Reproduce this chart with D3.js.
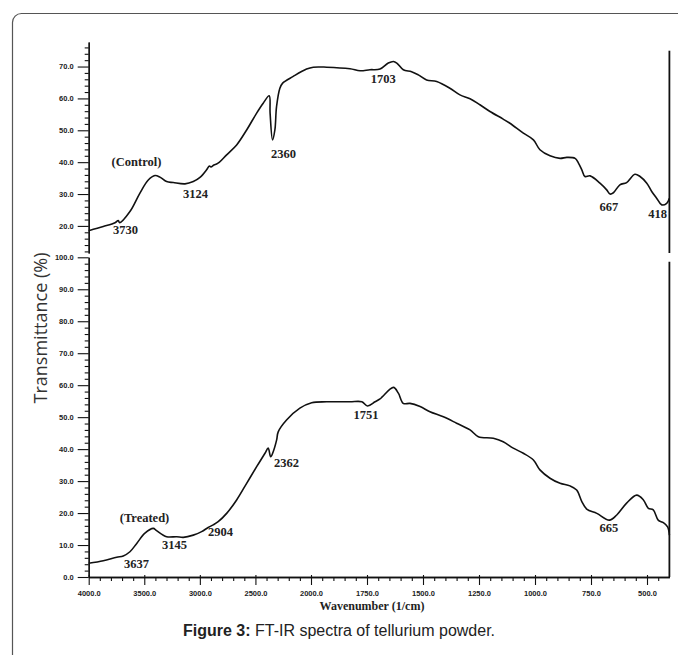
<!DOCTYPE html>
<html>
<head>
<meta charset="utf-8">
<script src="https://cdn.jsdelivr.net/npm/d3@7"></script>
<style>
  html, body { margin: 0; padding: 0; background: #fff; }
  svg { display: block; }
</style>
</head>
<body>
<div id="chart"></div>
<script>
// ---------------- DATA ----------------
const xMajorTicks = [4000, 3500, 3000, 2500, 2000, 1750, 1500, 1250, 1000, 750, 500];
const xMajorLabels = ["4000.0", "3500.0", "3000.0", "2500.0", "2000.0", "1750.0", "1500.0", "1250.0", "1000.0", "750.0", "500.0"];
const xMinorTicksHigh = [3900, 3800, 3700, 3600, 3400, 3300, 3200, 3100, 2900, 2800, 2700, 2600, 2400, 2300, 2200, 2100];
const xMinorTicksLow = [1950, 1900, 1850, 1800, 1700, 1650, 1600, 1550, 1450, 1400, 1350, 1300, 1200, 1150, 1100, 1050, 950, 900, 850, 800, 700, 650, 600, 550, 450];

const topYMajor = [20, 30, 40, 50, 60, 70];
const topYMinor = [12, 14, 16, 18, 22, 24, 26, 28, 32, 34, 36, 38, 42, 44, 46, 48, 52, 54, 56, 58, 62, 64, 66, 68, 72, 74, 76];
const botYMajor = [0, 10, 20, 30, 40, 50, 60, 70, 80, 90, 100];
const botYMinor = [2, 4, 6, 8, 12, 14, 16, 18, 22, 24, 26, 28, 32, 34, 36, 38, 42, 44, 46, 48, 52, 54, 56, 58, 62, 64, 66, 68, 72, 74, 76, 78, 82, 84, 86, 88, 92, 94, 96, 98];

// Control spectrum (wavenumber, transmittance %)
const controlWavenumber = [4000, 3869, 3763, 3734, 3722, 3629, 3539, 3464, 3404, 3359, 3299, 3239, 3134, 3059, 2999, 2939, 2915, 2900, 2873, 2850, 2826, 2759, 2669, 2579, 2489, 2430, 2376, 2368, 2346, 2325, 2310, 2280, 2255, 2160, 2040, 1990, 1930, 1826, 1781, 1737, 1692, 1655, 1632, 1617, 1588, 1551, 1521, 1484, 1439, 1380, 1335, 1290, 1246, 1201, 1142, 1112, 1052, 1007, 978, 933, 888, 858, 821, 806, 791, 777, 754, 710, 680, 665, 650, 621, 591, 554, 531, 501, 479, 457, 434, 412, 400];
const controlT = [18.5, 19.8, 21.0, 21.7, 21.0, 24.5, 30.3, 34.4, 35.8, 35.3, 33.9, 33.6, 33.2, 33.9, 35.2, 37.6, 38.8, 38.5, 39.1, 39.4, 39.9, 42.3, 45.4, 50.1, 55.4, 58.5, 60.8, 55.4, 47.0, 50.1, 57.4, 63.2, 64.8, 66.9, 69.2, 69.8, 69.8, 69.3, 68.7, 69.0, 69.2, 71.1, 71.6, 71.1, 69.0, 68.4, 67.4, 65.8, 65.3, 63.2, 61.1, 59.9, 58.0, 55.9, 53.5, 52.2, 49.1, 47.0, 43.9, 42.0, 41.2, 41.5, 41.2, 39.7, 37.6, 35.5, 35.7, 33.4, 31.3, 30.0, 30.4, 32.9, 33.6, 36.2, 35.5, 33.4, 30.8, 28.7, 26.6, 27.1, 28.7];

// Treated spectrum (wavenumber, transmittance %)
const treatedWavenumber = [4000, 3869, 3748, 3689, 3629, 3568, 3494, 3419, 3390, 3299, 3209, 3149, 3059, 2984, 2925, 2880, 2835, 2759, 2669, 2579, 2489, 2414, 2385, 2363, 2340, 2309, 2295, 2220, 2100, 1997, 1930, 1826, 1773, 1748, 1714, 1692, 1681, 1632, 1610, 1588, 1558, 1513, 1469, 1409, 1350, 1290, 1253, 1186, 1142, 1097, 1052, 1007, 978, 933, 888, 844, 814, 791, 769, 724, 668, 635, 591, 546, 516, 494, 472, 450, 427, 408, 400];
const treatedT = [4.3, 5.1, 6.2, 6.6, 7.9, 10.5, 13.7, 15.2, 14.5, 12.6, 12.6, 12.4, 13.1, 14.2, 15.5, 16.3, 17.3, 19.9, 24.1, 29.3, 34.5, 38.7, 40.3, 37.6, 39.2, 42.9, 45.4, 49.1, 52.8, 54.5, 54.8, 54.8, 54.8, 53.5, 54.8, 55.7, 56.4, 59.3, 57.5, 54.3, 54.3, 53.3, 51.7, 50.1, 48.1, 46.0, 43.9, 43.4, 42.3, 40.3, 38.7, 36.6, 33.5, 30.9, 29.3, 28.5, 27.2, 23.6, 21.2, 19.9, 17.8, 19.4, 23.1, 25.6, 24.1, 21.5, 21.0, 17.8, 17.0, 15.7, 13.1];

// Peak annotations (text, and where the label sits in data units)
const controlPeakText = ["3730", "3124", "2360", "1703", "667", "418"];
const controlLabelWn = [3669, 3040, 2248, 1677, 670, 453];
const controlLabelT = [17.4, 28.8, 41.3, 64.9, 24.7, 22.5];
const treatedPeakText = ["3637", "3145", "2904", "2362", "1751", "665"];
const treatedLabelWn = [3570, 3228, 2815, 2220, 1754, 670];
const treatedLabelT = [2.8, 8.8, 12.8, 34.4, 49.4, 14.1];

// ---------------- LAYOUT ----------------
const W = 678, H = 655;
const svg = d3.select("#chart").append("svg").attr("width", W).attr("height", H);

// border
svg.append("rect")
  .attr("x", 12.5).attr("y", 13.5).attr("width", 720).attr("height", 700)
  .attr("rx", 9).attr("fill", "none").attr("stroke", "#555").attr("stroke-width", 1.2);

// piecewise wavenumber scale (2x expansion below 2000 cm-1)
const x = d3.scaleLinear().domain([4000, 2000, 400]).range([88.7, 311, 669.4]);
const yTop = d3.scaleLinear().domain([11.5, 77.7]).range([253, 42]);
const yBot = d3.scaleLinear().domain([0, 100]).range([577, 257.3]);

const tickFont = "'Liberation Sans', Arial, sans-serif";
const serif = "'Liberation Serif', 'Times New Roman', serif";

function styleAxis(g) {
  g.selectAll("path.domain").attr("stroke", "#111").attr("stroke-width", 1.3);
  g.selectAll(".tick line").attr("stroke", "#111").attr("stroke-width", 1.1);
  g.selectAll(".tick text").attr("font-family", tickFont).attr("font-size", 7.5)
    .attr("font-weight", "bold").attr("fill", "#222");
}

// Top panel y-axis
const gTopMinor = svg.append("g").attr("transform", `translate(${x(4000)},0)`)
  .call(d3.axisLeft(yTop).tickValues(topYMinor).tickSize(4).tickSizeOuter(0).tickFormat(""));
styleAxis(gTopMinor);
const gTop = svg.append("g").attr("transform", `translate(${x(4000)},0)`)
  .call(d3.axisLeft(yTop).tickValues(topYMajor).tickSize(11).tickSizeOuter(0).tickPadding(4).tickFormat(d3.format(".1f")));
styleAxis(gTop);

// Bottom panel y-axis
const gBotMinor = svg.append("g").attr("transform", `translate(${x(4000)},0)`)
  .call(d3.axisLeft(yBot).tickValues(botYMinor).tickSize(4).tickSizeOuter(0).tickFormat(""));
styleAxis(gBotMinor);
const gBot = svg.append("g").attr("transform", `translate(${x(4000)},0)`)
  .call(d3.axisLeft(yBot).tickValues(botYMajor).tickSize(11).tickSizeOuter(0).tickPadding(4).tickFormat(d3.format(".1f")));
styleAxis(gBot);

// X axis (bottom panel)
const gxMinor = svg.append("g").attr("transform", `translate(0,${yBot(0)})`)
  .call(d3.axisBottom(x).tickValues(xMinorTicksHigh.concat(xMinorTicksLow)).tickSize(4).tickSizeOuter(0).tickFormat(""));
styleAxis(gxMinor);
const gx = svg.append("g").attr("transform", `translate(0,${yBot(0)})`)
  .call(d3.axisBottom(x).tickValues(xMajorTicks).tickSize(8).tickSizeOuter(0).tickPadding(6)
    .tickFormat((d, i) => xMajorLabels[i]));
styleAxis(gx);
gx.selectAll(".tick line").attr("y1", -2);

// right-hand vertical lines
svg.append("line").attr("x1", x(400)).attr("x2", x(400))
  .attr("y1", 50.7).attr("y2", yTop(11.5))
  .attr("stroke", "#111").attr("stroke-width", 1.8);
svg.append("line").attr("x1", x(400)).attr("x2", x(400))
  .attr("y1", 261.7).attr("y2", yBot(0))
  .attr("stroke", "#111").attr("stroke-width", 1.8);

// spectra
const lineTop = d3.line().x((d, i) => x(controlWavenumber[i])).y(d => yTop(d)).curve(d3.curveCatmullRom.alpha(0.5));
const lineBot = d3.line().x((d, i) => x(treatedWavenumber[i])).y(d => yBot(d)).curve(d3.curveCatmullRom.alpha(0.5));
svg.append("path").datum(controlT).attr("d", lineTop)
  .attr("fill", "none").attr("stroke", "#111").attr("stroke-width", 1.6).attr("stroke-linejoin", "round");
svg.append("path").datum(treatedT).attr("d", lineBot)
  .attr("fill", "none").attr("stroke", "#111").attr("stroke-width", 1.6).attr("stroke-linejoin", "round");

// peak labels
function peakLabels(texts, wns, ts, yScale) {
  svg.append("g").selectAll("text").data(texts).join("text")
    .attr("x", (d, i) => x(wns[i]))
    .attr("y", (d, i) => yScale(ts[i]))
    .attr("text-anchor", "middle")
    .attr("font-family", serif).attr("font-weight", "bold").attr("font-size", 12.5)
    .attr("fill", "#222")
    .text(d => d);
}
peakLabels(controlPeakText, controlLabelWn, controlLabelT, yTop);
peakLabels(treatedPeakText, treatedLabelWn, treatedLabelT, yBot);

// sample names
svg.append("text").attr("x", 136.5).attr("y", 166)
  .attr("text-anchor", "middle").attr("font-family", serif).attr("font-weight", "bold")
  .attr("font-size", 12.5).attr("fill", "#222").text("(Control)");
svg.append("text").attr("x", 144.5).attr("y", 522)
  .attr("text-anchor", "middle").attr("font-family", serif).attr("font-weight", "bold")
  .attr("font-size", 12.5).attr("fill", "#222").text("(Treated)");

// axis titles
svg.append("text").attr("x", 372).attr("y", 610)
  .attr("text-anchor", "middle").attr("font-family", serif).attr("font-weight", "bold")
  .attr("font-size", 12).attr("fill", "#222").text("Wavenumber (1/cm)");

svg.append("text").attr("transform", "translate(47,328) rotate(-90)")
  .attr("text-anchor", "middle").attr("font-family", "'Open Sans', 'Liberation Sans', sans-serif")
  .attr("font-size", 18).attr("fill", "#333").text("Transmittance (%)");

// caption
const cap = svg.append("text").attr("x", 339).attr("y", 636)
  .attr("text-anchor", "middle").attr("font-family", "'Liberation Sans', Arial, sans-serif")
  .attr("font-size", 16).attr("fill", "#222");
cap.append("tspan").attr("font-weight", "bold").text("Figure 3:");
cap.append("tspan").text(" FT-IR spectra of tellurium powder.");
</script>
</body>
</html>
